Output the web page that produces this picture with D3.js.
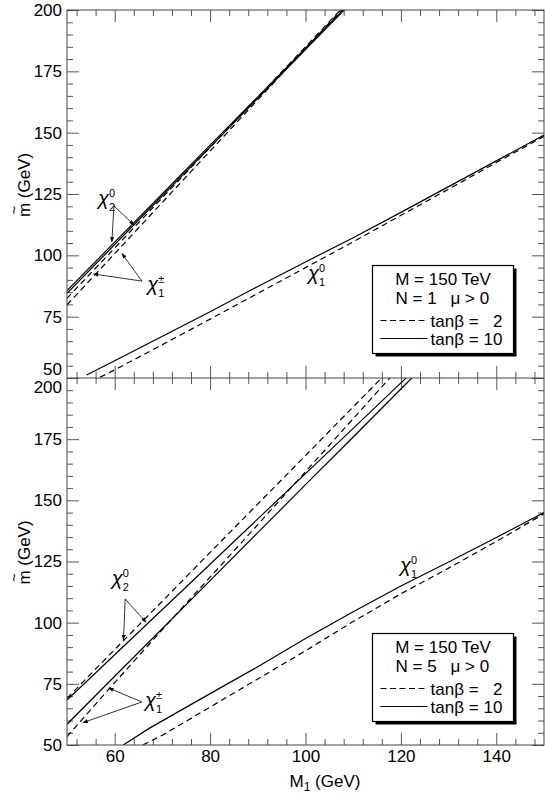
<!DOCTYPE html>
<html>
<head>
<meta charset="utf-8">
<script src="https://cdnjs.cloudflare.com/ajax/libs/d3/7.8.5/d3.min.js"></script>
<style>
body { margin: 0; background: #fff; }
text { font-family: "Liberation Sans", Arial, Helvetica, sans-serif; fill: #000; }
</style>
</head>
<body>
<script>
// ---- data: [M1 (GeV), mass (GeV)] ----
var xMajor = [60, 80, 100, 120, 140];
var yMajor = [50, 75, 100, 125, 150, 175, 200];

// N = 1 panel
var n1Chi20Tb10 = [[50, 85.6], [60, 105.4], [70, 125.1], [80, 144.9], [90, 164.6], [100, 184.4], [110, 204.2]];
var n1Chi1pTb10 = [[50, 84.5], [60, 104.4], [70, 124.3], [80, 144.1], [90, 164.0], [100, 183.9], [110, 203.8]];
var n1Chi20Tb2  = [[50, 82.5], [60, 103.0], [70, 123.5], [80, 144.0], [90, 164.5], [100, 185.0], [110, 205.5]];
var n1Chi1pTb2  = [[50, 79.8], [60, 100.7], [70, 121.6], [80, 142.5], [90, 163.4], [100, 184.3], [110, 205.2]];
var n1Chi10Tb10 = [[54.1, 51.2], [60, 57.0], [70, 67.0], [80, 77.0], [90, 87.3], [100, 97.3], [110, 107.2], [120, 117.5], [130, 128.0], [140, 138.5], [150, 149.0]];
var n1Chi10Tb2  = [[56.9, 50.3], [60, 53.3], [70, 63.6], [80, 74.0], [90, 84.5], [100, 95.0], [110, 105.5], [120, 116.3], [130, 127.0], [140, 137.8], [150, 148.5]];

// N = 5 panel
var n5Chi20Tb10 = [[50, 68.4], [60, 86.9], [70, 105.4], [80, 123.9], [90, 142.4], [100, 160.9], [110, 179.4], [120, 198.0], [130, 216.5]];
var n5Chi1pTb10 = [[50, 58.5], [60, 78.1], [70, 97.6], [80, 117.2], [90, 136.8], [100, 156.4], [110, 175.9], [120, 195.5], [130, 215.0]];
var n5Chi20Tb2  = [[50, 69.1], [60, 89.0], [70, 108.8], [80, 128.7], [90, 148.5], [100, 168.3], [110, 188.2], [120, 208.0]];
var n5Chi1pTb2  = [[50, 53.4], [60, 75.5], [70, 97.2], [80, 118.6], [90, 140.1], [100, 161.7], [110, 183.4], [120, 205.0]];
var n5Chi10Tb10 = [[61.8, 50.0], [67.4, 57.0], [80, 71.0], [90, 82.0], [100, 93.5], [110, 104.5], [120, 115.0], [130, 124.8], [140, 134.8], [150, 145.0]];
var n5Chi10Tb2  = [[65.9, 50.0], [70, 54.0], [80, 65.5], [90, 77.0], [100, 88.5], [110, 100.5], [120, 111.8], [130, 122.3], [140, 133.2], [150, 144.5]];

// legend texts
var panelN = ["1", "5"];

// ---- layout ----
var width = 545, height = 797;
var left = 67, right = 544;
var bounds = [[10, 378], [378, 745]];

var svg = d3.select('body').append('svg')
    .attr('width', width)
    .attr('height', height);

var defs = svg.append('defs');
defs.append('marker')
    .attr('id', 'arrow')
    .attr('viewBox', '0 0 10 10')
    .attr('refX', 10).attr('refY', 5)
    .attr('markerWidth', 7).attr('markerHeight', 5)
    .attr('markerUnits', 'userSpaceOnUse')
    .attr('orient', 'auto')
  .append('path')
    .attr('d', 'M0,1L10,5L0,9Z')
    .attr('fill', '#000');

var x = d3.scaleLinear().domain([50, 150]).range([left, right]);

var xMinor = d3.range(52, 150, 4).filter(function(v) { return v % 20 !== 0; });
var yMinor = d3.range(55, 200, 5).filter(function(v) { return v % 25 !== 0; });

function noDomain(g) { g.select('.domain').remove(); }

function tickStyle(g) {
    g.selectAll('line').attr('stroke', '#555');
    g.selectAll('text').attr('font-size', 17).attr('font-family', '"Liberation Sans", Arial, sans-serif');
}

function chi(g, px, py, sub, sup) {
    g.append('text').attr('x', px).attr('y', py)
        .attr('font-family', '"Liberation Serif", "DejaVu Serif", serif')
        .attr('font-style', 'italic')
        .attr('font-size', 20).text('\u03c7');
    g.append('text').attr('x', px + 11).attr('y', py - 8).attr('font-size', 11).text(sup);
    g.append('text').attr('x', px + 11).attr('y', py + 6).attr('font-size', 11).text(sub);
}

function arrow(g, from, to) {
    g.append('line')
        .attr('x1', from[0]).attr('y1', from[1])
        .attr('x2', to[0]).attr('y2', to[1])
        .attr('stroke', '#000')
        .attr('stroke-width', 0.8)
        .attr('marker-end', 'url(#arrow)');
}

var panels = [
    {
        curves: [
            {d: n1Chi20Tb10, dash: false}, {d: n1Chi1pTb10, dash: false},
            {d: n1Chi20Tb2, dash: true}, {d: n1Chi1pTb2, dash: true},
            {d: n1Chi10Tb10, dash: false}, {d: n1Chi10Tb2, dash: true}
        ],
        chi20: [56.5, 120.5], chi20From: [59.85, 120.1], chi20To: [[59.4, 105.4], [64.05, 112.4]],
        chi1p: [66.8, 85.5], chi1pFrom: [65.7, 89.5], chi1pTo: [[55.5, 92.4], [61.5, 100.8]],
        chi10: [100.5, 90.0]
    },
    {
        curves: [
            {d: n5Chi20Tb10, dash: false}, {d: n5Chi1pTb10, dash: false},
            {d: n5Chi20Tb2, dash: true}, {d: n5Chi1pTb2, dash: true},
            {d: n5Chi10Tb10, dash: false}, {d: n5Chi10Tb2, dash: true}
        ],
        chi20: [59.4, 115.4], chi20From: [62.2, 109.7], chi20To: [[61.85, 92.9], [66.6, 100.1]],
        chi1p: [66.35, 65.5], chi1pFrom: [65.7, 67.6], chi1pTo: [[58.7, 73.3], [53.3, 59.1]],
        chi10: [119.8, 120.7]
    }
];

panels.forEach(function(p, i) {
    var top = bounds[i][0], bottom = bounds[i][1];
    var y = d3.scaleLinear().domain([50, 200]).range([bottom, top]);
    var g = svg.append('g');

    defs.append('clipPath').attr('id', 'clip' + i)
      .append('rect')
        .attr('x', left).attr('y', top)
        .attr('width', right - left).attr('height', bottom - top);

    // ticks
    var yl = g.append('g').attr('transform', 'translate(' + left + ',0)')
        .call(d3.axisLeft(y).tickValues(yMajor).tickSizeInner(-12).tickSizeOuter(0).tickPadding(5))
        .call(noDomain).call(tickStyle);
    g.append('g').attr('transform', 'translate(' + left + ',0)')
        .call(d3.axisLeft(y).tickValues(yMinor).tickSize(-6).tickFormat(''))
        .call(noDomain).call(tickStyle);
    g.append('g').attr('transform', 'translate(' + right + ',0)')
        .call(d3.axisRight(y).tickValues(yMajor).tickSize(-12).tickFormat(''))
        .call(noDomain).call(tickStyle);
    g.append('g').attr('transform', 'translate(' + right + ',0)')
        .call(d3.axisRight(y).tickValues(yMinor).tickSize(-6).tickFormat(''))
        .call(noDomain).call(tickStyle);
    g.append('g').attr('transform', 'translate(0,' + top + ')')
        .call(d3.axisTop(x).tickValues(xMajor).tickSize(-12).tickFormat(''))
        .call(noDomain).call(tickStyle);
    g.append('g').attr('transform', 'translate(0,' + top + ')')
        .call(d3.axisTop(x).tickValues(xMinor).tickSize(-6).tickFormat(''))
        .call(noDomain).call(tickStyle);
    g.append('g').attr('transform', 'translate(0,' + bottom + ')')
        .call(d3.axisBottom(x).tickValues(xMajor).tickSize(-12).tickPadding(5)
              .tickFormat(i === 1 ? d3.format('d') : ''))
        .call(noDomain).call(tickStyle);
    g.append('g').attr('transform', 'translate(0,' + bottom + ')')
        .call(d3.axisBottom(x).tickValues(xMinor).tickSize(-6).tickFormat(''))
        .call(noDomain).call(tickStyle);

    // keep 50 / 200 labels apart at the shared border
    yl.selectAll('text')
        .attr('y', function(d) {
            if (i === 0 && d === 50) return -9;
            if (i === 1 && d === 200) return 9;
            return 0;
        });

    // curves
    var line = d3.line()
        .x(function(d) { return x(d[0]); })
        .y(function(d) { return y(d[1]); });
    var cg = g.append('g').attr('clip-path', 'url(#clip' + i + ')');
    p.curves.forEach(function(c) {
        cg.append('path')
            .attr('d', line(c.d))
            .attr('fill', 'none')
            .attr('stroke', '#000')
            .attr('stroke-width', 1.2)
            .attr('stroke-dasharray', c.dash ? '6,4' : null);
    });

    // labels and arrows
    function P(v) { return [x(v[0]), y(v[1])]; }
    chi(g, x(p.chi20[0]), y(p.chi20[1]), '2', '0');
    p.chi20To.forEach(function(t) { arrow(g, P(p.chi20From), P(t)); });
    chi(g, x(p.chi1p[0]), y(p.chi1p[1]), '1', '\u00b1');
    p.chi1pTo.forEach(function(t) { arrow(g, P(p.chi1pFrom), P(t)); });
    chi(g, x(p.chi10[0]), y(p.chi10[1]), '1', '0');

    // y title
    var yt = g.append('g')
        .attr('transform', 'translate(30,' + (top + (bottom - top) / 2 - 9) + ') rotate(-90)');
    var tt = yt.append('text').attr('text-anchor', 'middle').attr('font-size', 17).text('m (GeV)');
    var tw = tt.node().getComputedTextLength();
    var mw = tt.node().getSubStringLength(0, 1);
    yt.append('text')
        .attr('x', -tw / 2 + mw / 2)
        .attr('y', -11)
        .attr('text-anchor', 'middle')
        .attr('font-size', 15)
        .text('~');

    // legend box
    var bx = left + 305.5, by = top + 255.5, bw = 141, bh = 88;
    g.append('rect').attr('x', bx + 3).attr('y', by + 3).attr('width', bw).attr('height', bh).attr('fill', '#000');
    g.append('rect').attr('x', bx).attr('y', by).attr('width', bw).attr('height', bh)
        .attr('fill', '#fff').attr('stroke', '#000').attr('stroke-width', 1.2);
    g.append('text').attr('x', bx + bw / 2).attr('y', by + 19).attr('text-anchor', 'middle')
        .attr('font-size', 17).text('M = 150 TeV');
    g.append('text').attr('x', bx + 23).attr('y', by + 38).attr('font-size', 17).text('N = ' + panelN[i]);
    g.append('text').attr('x', bx + 78).attr('y', by + 38).attr('font-size', 17).text('\u03bc > 0');
    [['2', true], ['10', false]].forEach(function(r, k) {
        var yy = by + 61 + k * 18;
        g.append('line').attr('x1', bx + 8).attr('x2', bx + 55)
            .attr('y1', yy - 6).attr('y2', yy - 6)
            .attr('stroke', '#000').attr('stroke-width', 1.2)
            .attr('stroke-dasharray', r[1] ? '6,3.5' : null);
        g.append('text').attr('x', bx + 58).attr('y', yy).attr('font-size', 17).text('tan\u03b2 =');
        g.append('text').attr('x', bx + 130).attr('y', yy).attr('text-anchor', 'end')
            .attr('font-size', 17).text(r[0]);
    });
});

// frame
svg.append('rect')
    .attr('x', left).attr('y', bounds[0][0])
    .attr('width', right - left).attr('height', bounds[1][1] - bounds[0][0])
    .attr('fill', 'none').attr('stroke', '#444').attr('stroke-width', 1);
svg.append('line')
    .attr('x1', left).attr('x2', right)
    .attr('y1', bounds[0][1]).attr('y2', bounds[0][1])
    .attr('stroke', '#444').attr('stroke-width', 1);

// x title
var xt = svg.append('text')
    .attr('x', 325).attr('y', 787)
    .attr('text-anchor', 'middle')
    .attr('font-size', 17);
xt.append('tspan').text('M');
xt.append('tspan').attr('font-size', 12).attr('dy', 4).text('1');
xt.append('tspan').attr('dy', -4).text(' (GeV)');
</script>
</body>
</html>
